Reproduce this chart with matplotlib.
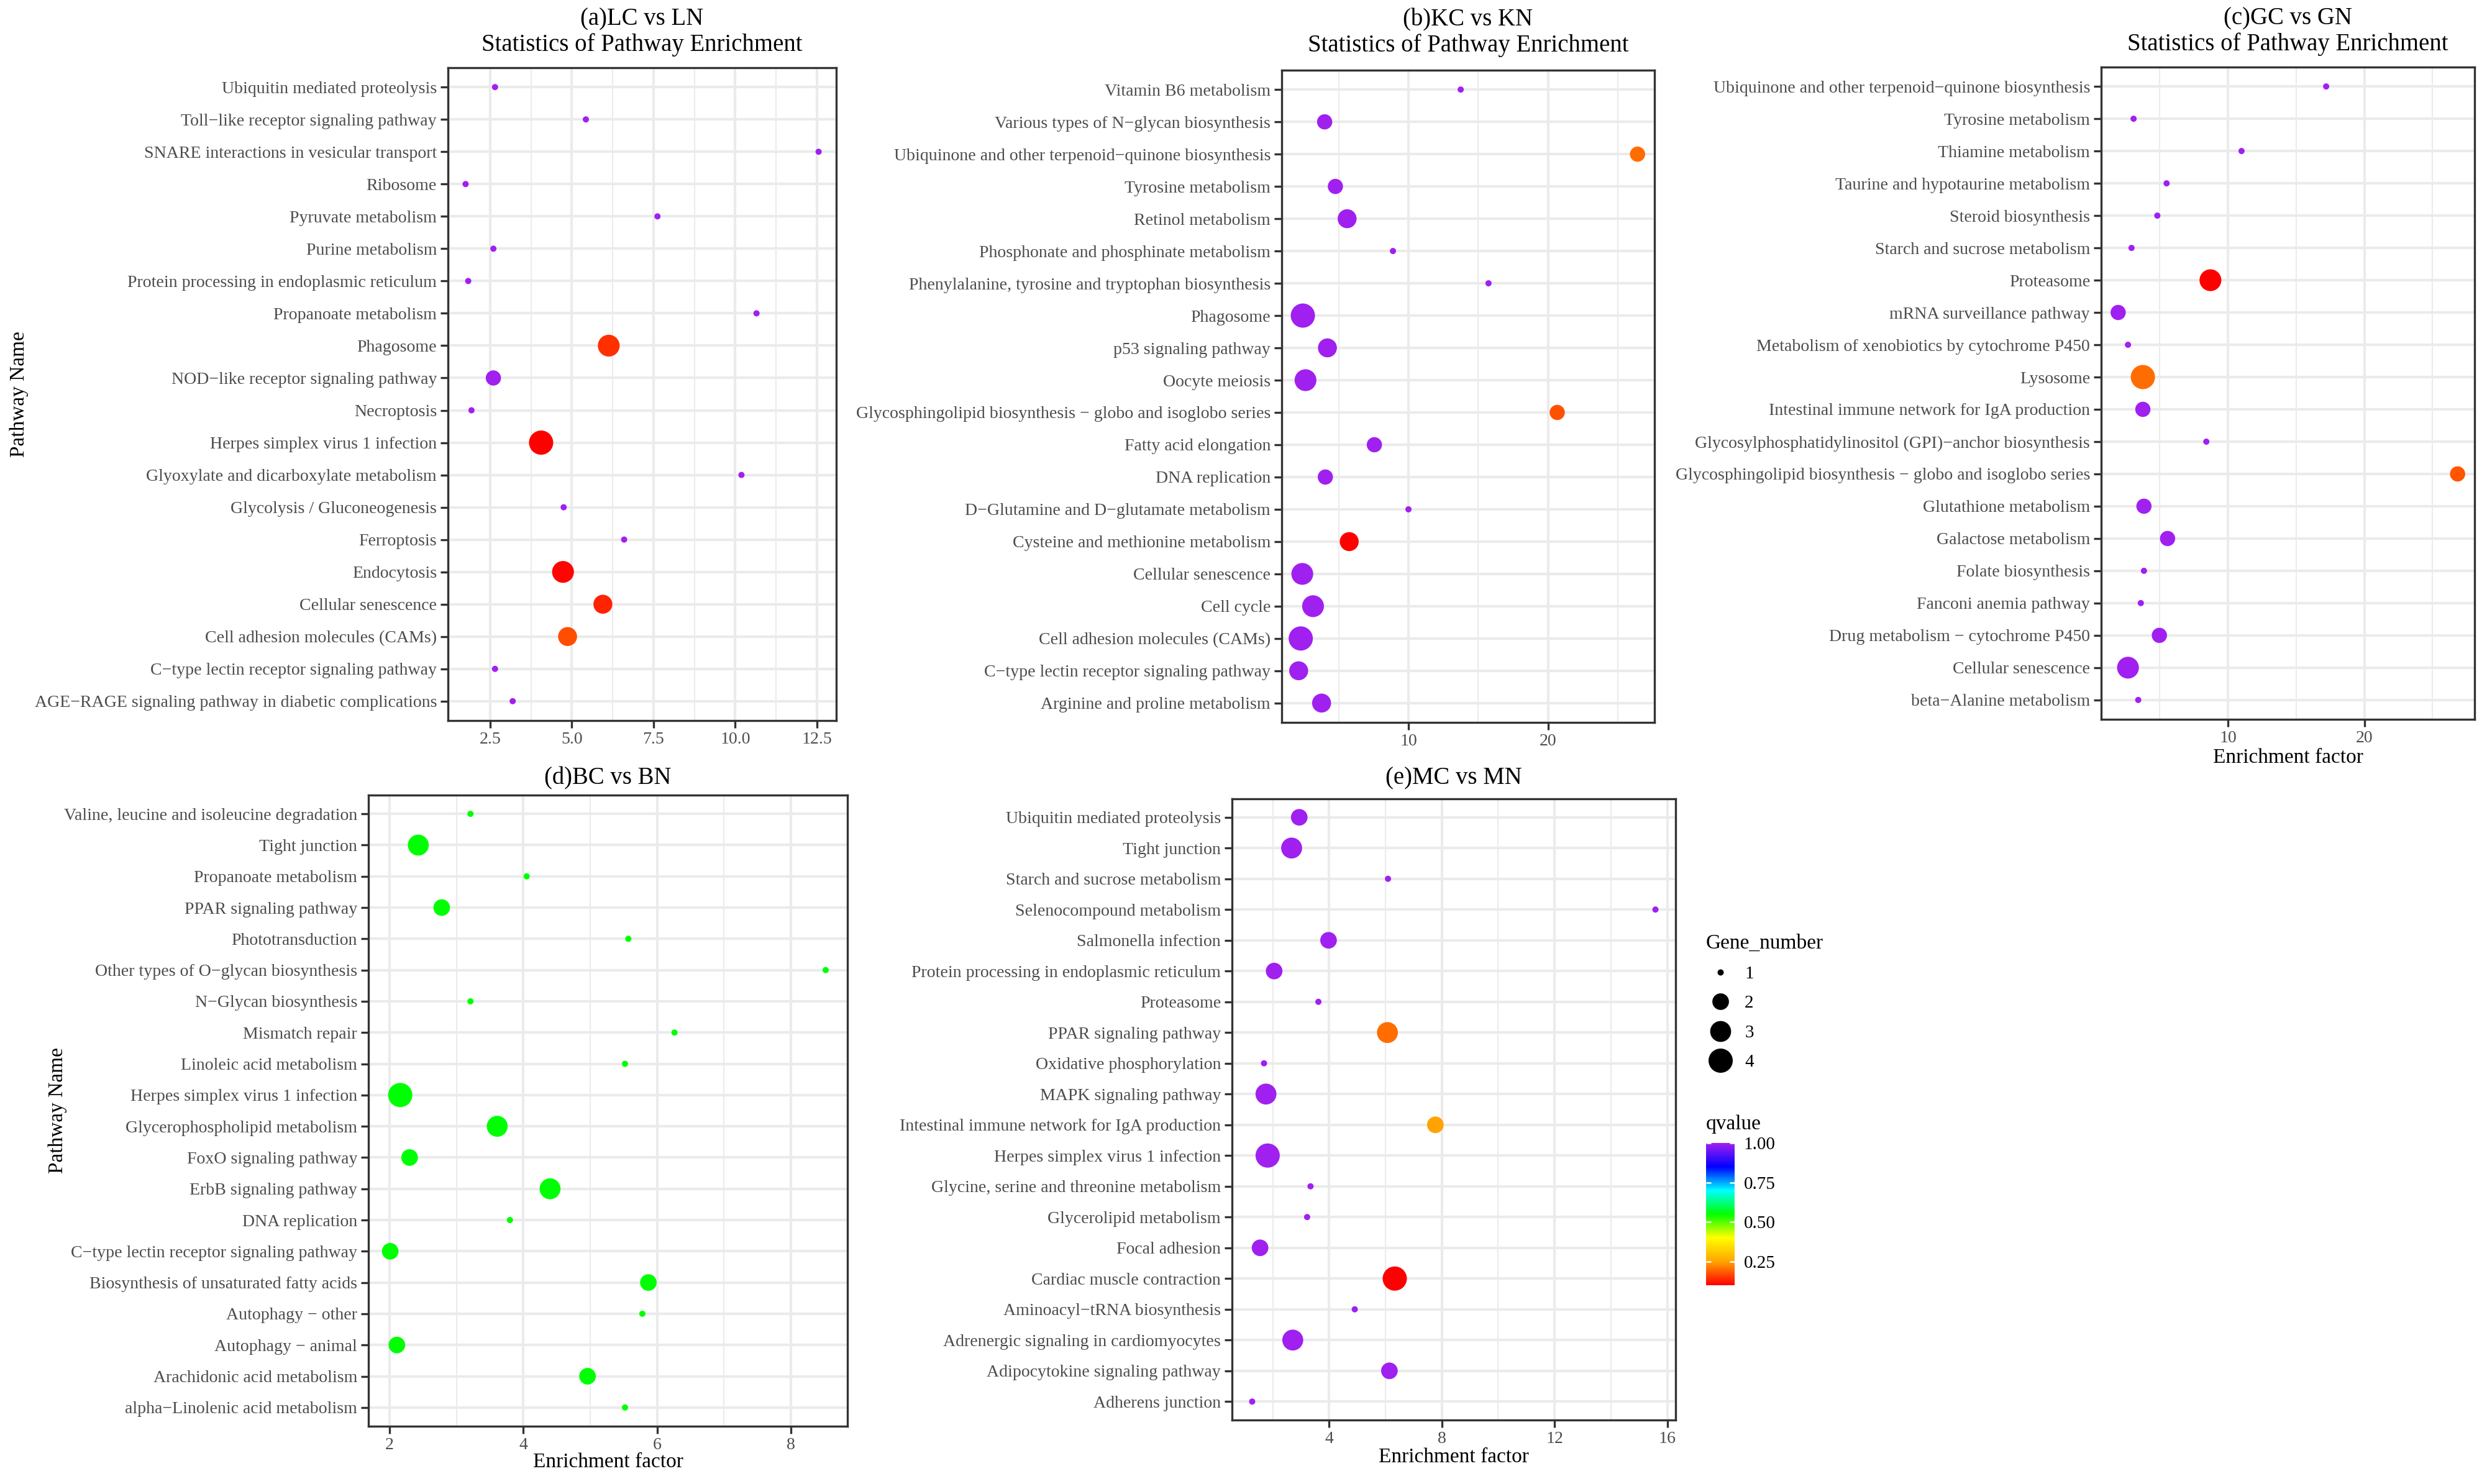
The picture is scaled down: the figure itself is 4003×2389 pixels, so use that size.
import numpy as np
import matplotlib
matplotlib.use("Agg")
import matplotlib.pyplot as plt
from matplotlib.colors import LinearSegmentedColormap, Normalize
from matplotlib.cm import ScalarMappable
from matplotlib.lines import Line2D
from matplotlib.ticker import MultipleLocator

plt.rcParams['font.family'] = ['Liberation Serif', 'DejaVu Serif']

W, H, DPI = 4003, 2389, 300

# (a) LC vs LN  (rows listed top to bottom)
lc_names = ["Ubiquitin mediated proteolysis", "Toll−like receptor signaling pathway",
            "SNARE interactions in vesicular transport", "Ribosome", "Pyruvate metabolism",
            "Purine metabolism", "Protein processing in endoplasmic reticulum",
            "Propanoate metabolism", "Phagosome", "NOD−like receptor signaling pathway",
            "Necroptosis", "Herpes simplex virus 1 infection",
            "Glyoxylate and dicarboxylate metabolism", "Glycolysis / Gluconeogenesis",
            "Ferroptosis", "Endocytosis", "Cellular senescence", "Cell adhesion molecules (CAMs)",
            "C−type lectin receptor signaling pathway",
            "AGE−RAGE signaling pathway in diabetic complications"]
lc_factor = [2.65, 5.43, 12.55, 1.75, 7.62, 2.60, 1.83, 10.65, 6.13, 2.60,
             1.93, 4.06, 10.19, 4.75, 6.60, 4.73, 5.95, 4.87, 2.65, 3.19]
lc_genes = [1, 1, 1, 1, 1, 1, 1, 1, 4, 2, 1, 5, 1, 1, 1, 4, 3, 3, 1, 1]
lc_q = [1, 1, 1, 1, 1, 1, 1, 1, 0.24, 1, 1, 0.20, 1, 1, 1, 0.205, 0.23, 0.265, 1, 1]

# (b) KC vs KN
kc_names = ["Vitamin B6 metabolism", "Various types of N−glycan biosynthesis",
            "Ubiquinone and other terpenoid−quinone biosynthesis", "Tyrosine metabolism",
            "Retinol metabolism", "Phosphonate and phosphinate metabolism",
            "Phenylalanine, tyrosine and tryptophan biosynthesis", "Phagosome",
            "p53 signaling pathway", "Oocyte meiosis",
            "Glycosphingolipid biosynthesis − globo and isoglobo series",
            "Fatty acid elongation", "DNA replication",
            "D−Glutamine and D−glutamate metabolism", "Cysteine and methionine metabolism",
            "Cellular senescence", "Cell cycle", "Cell adhesion molecules (CAMs)",
            "C−type lectin receptor signaling pathway", "Arginine and proline metabolism"]
kc_factor = [13.74, 4.00, 26.40, 4.77, 5.61, 8.89, 15.73, 2.44, 4.20, 2.63,
             20.65, 7.56, 4.05, 10.00, 5.76, 2.40, 3.17, 2.29, 2.14, 3.78]
kc_genes = [1, 2, 2, 2, 3, 1, 1, 5, 3, 4, 2, 2, 2, 1, 3, 4, 4, 5, 3, 3]
kc_q = [1, 1, 0.20, 1, 1, 1, 1, 1, 1, 1, 0.177, 1, 1, 1, 0.10, 1, 1, 1, 1, 1]

# (c) GC vs GN
gc_names = ["Ubiquinone and other terpenoid−quinone biosynthesis", "Tyrosine metabolism",
            "Thiamine metabolism", "Taurine and hypotaurine metabolism", "Steroid biosynthesis",
            "Starch and sucrose metabolism", "Proteasome", "mRNA surveillance pathway",
            "Metabolism of xenobiotics by cytochrome P450", "Lysosome",
            "Intestinal immune network for IgA production",
            "Glycosylphosphatidylinositol (GPI)−anchor biosynthesis",
            "Glycosphingolipid biosynthesis − globo and isoglobo series",
            "Glutathione metabolism", "Galactose metabolism", "Folate biosynthesis",
            "Fanconi anemia pathway", "Drug metabolism − cytochrome P450",
            "Cellular senescence", "beta−Alanine metabolism"]
gc_factor = [17.20, 3.09, 11.00, 5.51, 4.83, 2.94, 8.72, 1.96, 2.68, 3.77,
             3.77, 8.42, 26.83, 3.85, 5.58, 3.85, 3.62, 4.98, 2.68, 3.43]
gc_genes = [1, 1, 1, 1, 1, 1, 4, 2, 1, 5, 2, 1, 2, 2, 2, 1, 1, 2, 4, 1]
gc_q = [1, 1, 1, 1, 1, 1, 0.10, 1, 1, 0.20, 1, 1, 0.18, 1, 1, 1, 1, 1, 1, 1]

# (d) BC vs BN
bc_names = ["Valine, leucine and isoleucine degradation", "Tight junction",
            "Propanoate metabolism", "PPAR signaling pathway", "Phototransduction",
            "Other types of O−glycan biosynthesis", "N−Glycan biosynthesis", "Mismatch repair",
            "Linoleic acid metabolism", "Herpes simplex virus 1 infection",
            "Glycerophospholipid metabolism", "FoxO signaling pathway", "ErbB signaling pathway",
            "DNA replication", "C−type lectin receptor signaling pathway",
            "Biosynthesis of unsaturated fatty acids", "Autophagy − other",
            "Autophagy − animal", "Arachidonic acid metabolism",
            "alpha−Linolenic acid metabolism"]
bc_factor = [3.21, 2.43, 4.05, 2.78, 5.57, 8.52, 3.21, 6.26, 5.52, 2.16,
             3.61, 2.30, 4.40, 3.80, 2.01, 5.87, 5.78, 2.11, 4.96, 5.52]
bc_genes = [1, 3, 1, 2, 1, 1, 1, 1, 1, 4, 3, 2, 3, 1, 2, 2, 1, 2, 2, 1]
bc_q = [1] * 20

# (e) MC vs MN
mc_names = ["Ubiquitin mediated proteolysis", "Tight junction",
            "Starch and sucrose metabolism", "Selenocompound metabolism",
            "Salmonella infection", "Protein processing in endoplasmic reticulum",
            "Proteasome", "PPAR signaling pathway", "Oxidative phosphorylation",
            "MAPK signaling pathway", "Intestinal immune network for IgA production",
            "Herpes simplex virus 1 infection", "Glycine, serine and threonine metabolism",
            "Glycerolipid metabolism", "Focal adhesion", "Cardiac muscle contraction",
            "Aminoacyl−tRNA biosynthesis", "Adrenergic signaling in cardiomyocytes",
            "Adipocytokine signaling pathway", "Adherens junction"]
mc_factor = [2.94, 2.67, 6.09, 15.58, 3.98, 2.05, 3.62, 6.07, 1.69, 1.76,
             7.77, 1.82, 3.34, 3.22, 1.55, 6.33, 4.91, 2.71, 6.14, 1.27]
mc_genes = [2, 3, 1, 1, 2, 2, 1, 3, 1, 3, 2, 4, 1, 1, 2, 4, 1, 3, 2, 1]
mc_q = [1, 1, 1, 1, 1, 1, 1, 0.20, 1, 1, 0.25, 1, 1, 1, 1, 0.10, 1, 1, 1, 1]

legend_sizes = [1, 2, 3, 4]
cbar_ticks = [0.25, 0.50, 0.75, 1.00]

rainbow = LinearSegmentedColormap.from_list(
    "q", ["#FF0000", "#FFA500", "#FFFF00", "#00FF00", "#00FFFF", "#0000FF", "#A020F0"])

D_MAX = 39 / DPI * 72  # biggest point diameter in pt


def px_box(l, t, r, b):
    return [l / W, 1 - b / H, (r - l) / W, (b - t) / H]


def diam(genes, nmax):
    g = np.asarray(genes, float)
    gg = 1 + 5 * np.sqrt((g - 1) / (nmax - 1))
    return D_MAX * (gg * 2.845 + 2.05) / (6 * 2.845 + 2.05)


def q_colors(q):
    q = np.asarray(q, float)
    if q.max() == q.min():
        t = np.full_like(q, 0.5)
    else:
        t = (q - q.min()) / (q.max() - q.min())
    return rainbow(t)


fig = plt.figure(figsize=(W / DPI, H / DPI), dpi=DPI)


def panel(box, names, factor, genes, q, step, title, title_y,
          xlabel_y=None, ylabel_x=None):
    l, t, r, b = box
    ax = fig.add_axes(px_box(*box))
    n = len(names)
    y = np.arange(n)[::-1]
    ax.scatter(factor, y, s=diam(genes, max(genes)) ** 2, c=q_colors(q),
               edgecolors='none', zorder=3)
    lo, hi = min(factor), max(factor)
    pad = (hi - lo) * 0.05
    ax.set_xlim(lo - pad, hi + pad)
    ax.set_ylim(-0.6, n - 0.4)
    ax.set_yticks(y)
    ax.set_yticklabels(names)
    ax.xaxis.set_major_locator(MultipleLocator(step))
    ax.xaxis.set_minor_locator(MultipleLocator(step / 2))
    ax.tick_params(which='major', length=2.8, width=0.8, color='#333333',
                   labelsize=6.7, labelcolor='#4D4D4D', pad=1.5)
    ax.tick_params(which='minor', length=0)
    ax.grid(which='major', color='#EBEBEB', linewidth=1.0)
    ax.grid(which='minor', axis='x', color='#EBEBEB', linewidth=0.5)
    ax.set_axisbelow(True)
    for s in ax.spines.values():
        s.set_color('#333333')
        s.set_linewidth(0.8)
    fig.text((l + r) / 2 / W, 1 - title_y / H, title, ha='center', va='center',
             fontsize=9.3, linespacing=1.15)
    if xlabel_y is not None:
        ax.set_xlabel("Enrichment factor", fontsize=8)
        ax.xaxis.label.set_va('center')
        ax.xaxis.set_label_coords(0.5, 1 - (xlabel_y - t) / (b - t))
    if ylabel_x is not None:
        ax.set_ylabel("Pathway Name", fontsize=8)
        ax.yaxis.label.set_va('center')
        ax.yaxis.set_label_coords((ylabel_x - l) / (r - l), 0.5)
    return ax


panel((721, 109, 1346, 1160), lc_names, lc_factor, lc_genes, lc_q, 2.5,
      "(a)LC vs LN\nStatistics of Pathway Enrichment", 52, ylabel_x=31)
panel((2063, 113, 2663, 1163), kc_names, kc_factor, kc_genes, kc_q, 10,
      "(b)KC vs KN\nStatistics of Pathway Enrichment", 53)
panel((3382, 108, 3983, 1158), gc_names, gc_factor, gc_genes, gc_q, 10,
      "(c)GC vs GN\nStatistics of Pathway Enrichment", 51, xlabel_y=1220)
panel((593, 1280, 1364, 2296), bc_names, bc_factor, bc_genes, bc_q, 2,
      "(d)BC vs BN", 1253, xlabel_y=2354, ylabel_x=93)
panel((1983, 1286, 2697, 2286), mc_names, mc_factor, mc_genes, mc_q, 4,
      "(e)MC vs MN", 1253, xlabel_y=2346)

# size legend
handles = [Line2D([], [], marker='o', linestyle='', color='black', markeredgewidth=0,
                  markersize=d) for d in diam(legend_sizes, max(legend_sizes))]
leg = fig.legend(handles, [str(v) for v in legend_sizes], title="Gene_number",
                 loc='upper left', bbox_to_anchor=(2746 / W, 1 - 1503 / H),
                 frameon=False, fontsize=7, title_fontsize=8, alignment='left',
                 borderpad=0, borderaxespad=0, handlelength=1.58, handletextpad=0.55,
                 labelspacing=0.72)

# colour bar
cax = fig.add_axes(px_box(2746, 1840, 2792, 2069))
sm = ScalarMappable(norm=Normalize(min(mc_q), max(mc_q)), cmap=rainbow)
cb = fig.colorbar(sm, cax=cax, ticks=cbar_ticks)
cb.ax.set_yticklabels([f"{v:.2f}" for v in cbar_ticks])
cb.outline.set_visible(False)
cax.tick_params(left=True, right=True, labelleft=False, labelright=True,
                direction='in', length=2, width=0.6, color='white',
                labelsize=7, pad=3.5)
fig.text(2746 / W, 1 - 1810 / H, "qvalue", ha='left', va='center', fontsize=8)

fig.savefig("out.png", dpi=DPI)
